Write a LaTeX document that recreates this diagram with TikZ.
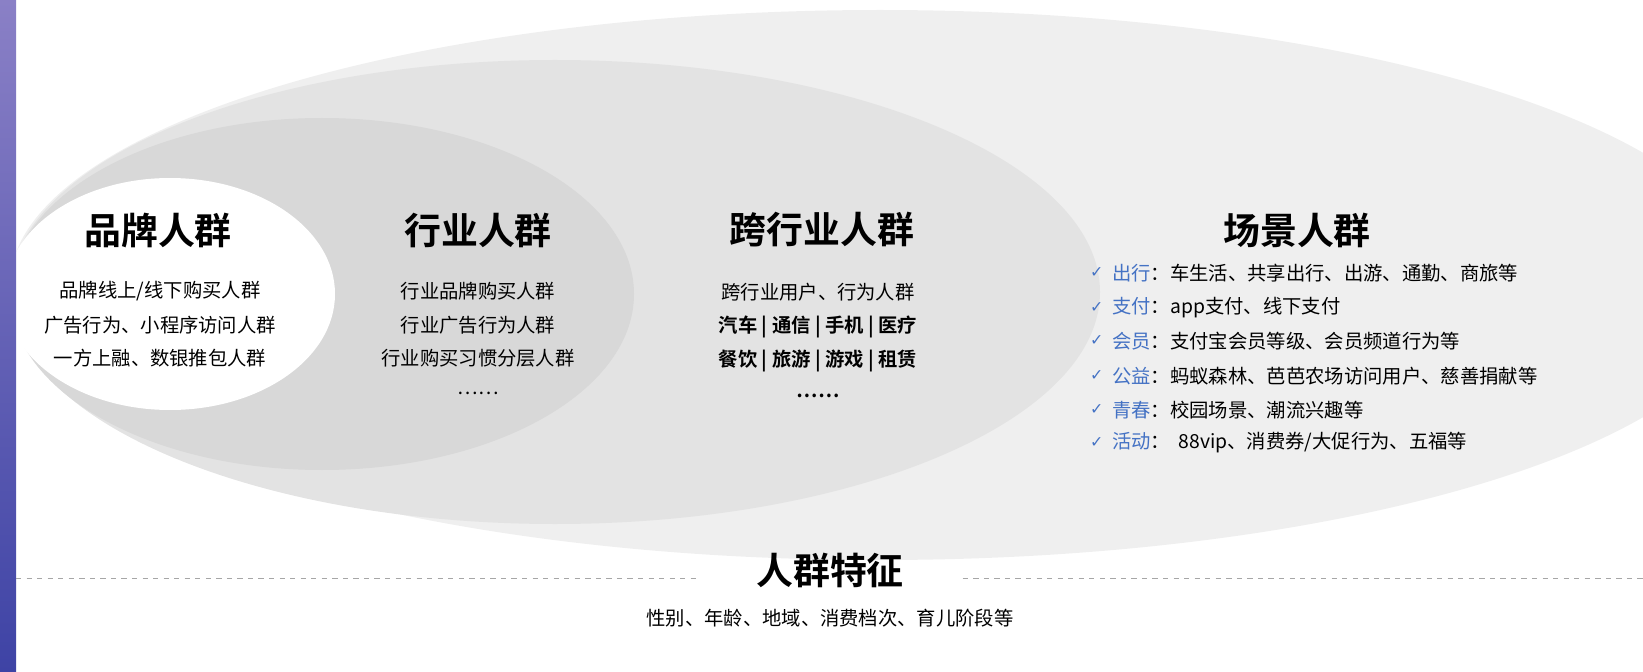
\documentclass[tikz,border=0pt]{standalone}
\usepackage{fontspec}
\setmainfont{Noto Sans CJK SC}[BoldFont={* Bold}]
\newfontfamily\symfont{DejaVu Sans}
\definecolor{ringA}{HTML}{EFEFEF}
\definecolor{ringB}{HTML}{E3E3E3}
\definecolor{ringC}{HTML}{D8D8D8}
\definecolor{tagblue}{HTML}{4472C4}
\definecolor{stripTop}{HTML}{8A80C6}
\definecolor{stripBot}{HTML}{3E43A5}

\begin{document}
\begin{tikzpicture}[x=0.02cm,y=-0.02cm,
  title/.style={font=\bfseries\fontsize{21}{24}\selectfont},
  body/.style={font=\fontsize{11}{14}\selectfont},
  item/.style={font=\fontsize{11}{14}\selectfont,anchor=west}]
  \useasboundingbox (0,0) rectangle (1643,672);
  \begin{scope}
    \clip (0,0) rectangle (1643,672);
    \fill[ringA] (880,285) ellipse [x radius=870,y radius=275];
  \end{scope}
  \fill[ringB] (555,292) ellipse [x radius=545,y radius=232];
  \fill[ringC] (322,294) ellipse [x radius=312,y radius=176];
  \fill[white] (170,294) ellipse [x radius=165,y radius=116];
  \shade[top color=stripTop,bottom color=stripBot] (0,0) rectangle (16,672);
  % dashed base line
  \coordinate (baseL) at (16,578);
  \coordinate (baseR) at (1643,578);
  \node[title] (feat) at (830,570) {人群特征};
  \draw[gray!70,dashed] (baseL) -- ([xshift=-30pt]feat.west |- baseL);
  \draw[gray!70,dashed] ([xshift=30pt]feat.east |- baseR) -- (baseR);
  \node[body] (featT) at (830,618) {性别、年龄、地域、消费档次、育儿阶段等};
  % brand
  \node[title] (brand) at (158,230) {品牌人群};
  \node[body] (b1) at (160,291) {品牌线上/线下购买人群};
  \node[body] (b2) at (160,325) {广告行为、小程序访问人群};
  \node[body] (b3) at (160,358) {一方上融、数银推包人群};
  % industry
  \node[title] (ind) at (478,230) {行业人群};
  \node[body] (i1) at (478,291) {行业品牌购买人群};
  \node[body] (i2) at (478,325) {行业广告行为人群};
  \node[body] (i3) at (478,358) {行业购买习惯分层人群};
  \node[body] (i4) at (478,393) {……};
  % cross industry
  \node[title] (cross) at (822,230) {跨行业人群};
  \node[body] (c1) at (818,292) {跨行业用户、行为人群};
  \node[body,font=\bfseries\fontsize{11}{14}\selectfont] (c2) at (818,327) {汽车 | 通信 | 手机 | 医疗};
  \node[body,font=\bfseries\fontsize{11}{14}\selectfont] (c3) at (818,361) {餐饮 | 旅游 | 游戏 | 租赁};
  \node[body,font=\bfseries\fontsize{11}{14}\selectfont] (c4) at (818,396) {……};
  % scenes
  \node[title] (scene) at (1297,230) {场景人群};
  \foreach \y/\tag/\txt [count=\k] in {
    273/出行/车生活、共享出行、出游、通勤、商旅等,
    308/支付/app支付、线下支付,
    341/会员/支付宝会员等级、会员频道行为等,
    376/公益/蚂蚁森林、芭芭农场访问用户、慈善捐献等,
    410/青春/校园场景、潮流兴趣等,
    443/活动/{\ \ 88vip、消费券/大促行为、五福等}}{
    \node[item,text=tagblue,font=\symfont\small] (chk\k) at (1084,\y) {✓};
    \node[item] (txt\k) at (1106,\y) {\textcolor{tagblue}{\tag}：\txt};
  }
\end{tikzpicture}
\end{document}
